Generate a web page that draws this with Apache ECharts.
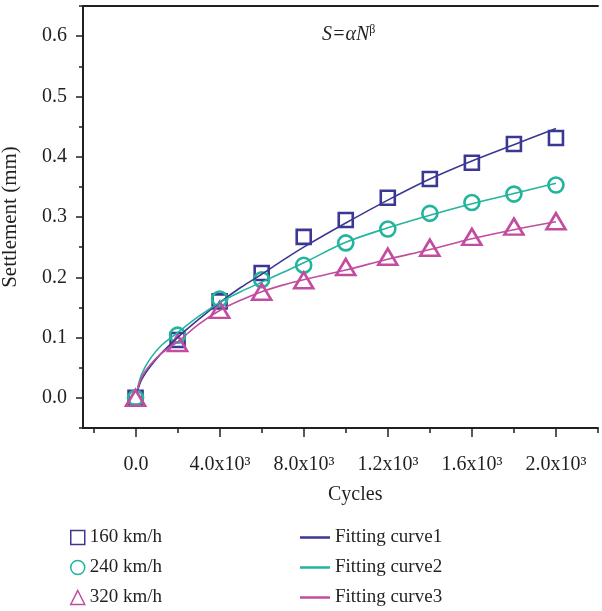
<!DOCTYPE html>
<html>
<head>
<meta charset="utf-8">
<script src="https://cdn.jsdelivr.net/npm/echarts@6/dist/echarts.min.js"></script>
<style>html,body{margin:0;padding:0;background:#fff;}#c{width:602px;height:611px;}</style>
</head>
<body>
<div id="c"></div>
<script>
// ---- data ----
const cycles = [0, 2000, 4000, 6000, 8000, 10000, 12000, 14000, 16000, 18000, 20000];
const s160 = [0.000, 0.096, 0.160, 0.207, 0.267, 0.295, 0.332, 0.363, 0.390, 0.421, 0.431];
const s240 = [0.000, 0.104, 0.164, 0.196, 0.220, 0.257, 0.280, 0.306, 0.324, 0.338, 0.353];
const s320 = [0.000, 0.091, 0.146, 0.176, 0.195, 0.217, 0.234, 0.249, 0.267, 0.284, 0.293];

const fitN = [100, 300, 700, 1200, 2000, 3000, 4000, 5000, 6000, 7000, 8000, 10000, 12000, 14000, 16000, 18000, 20000];
const fit1 = [0.012, 0.031, 0.052, 0.073, 0.100, 0.130, 0.158, 0.183, 0.205, 0.228, 0.250, 0.290, 0.328, 0.363, 0.393, 0.420, 0.447];
const fit2 = [0.017, 0.040, 0.065, 0.086, 0.108, 0.135, 0.158, 0.176, 0.192, 0.208, 0.224, 0.258, 0.282, 0.303, 0.322, 0.339, 0.356];
const fit3 = [0.014, 0.035, 0.055, 0.073, 0.093, 0.122, 0.145, 0.162, 0.176, 0.187, 0.196, 0.212, 0.230, 0.246, 0.264, 0.279, 0.292];

const xTickValues = [0, 4000, 8000, 12000, 16000, 20000];
const xTickLabels = ['0.0', '4.0x10³', '8.0x10³', '1.2x10³', '1.6x10³', '2.0x10³'];
const yTickValues = [0, 0.1, 0.2, 0.3, 0.4, 0.5, 0.6];
const yTickLabels = ['0.0', '0.1', '0.2', '0.3', '0.4', '0.5', '0.6'];

const names = ['160 km/h', '240 km/h', '320 km/h'];
const fitNames = ['Fitting curve1', 'Fitting curve2', 'Fitting curve3'];
const colors = ['#3b3894', '#22b59c', '#c24c9f'];

// ---- chart ----
const FONT = '"Liberation Serif", "DejaVu Serif", serif';
const TXT = '#231f20';
const chart = echarts.init(document.getElementById('c'), null, {renderer: 'canvas'});

const pair = (xs, ys) => xs.map((x, i) => [x, ys[i]]);
const symbols = ['rect', 'circle', 'triangle'];
const symSizes = [14, 15, [19, 16]];

const hiddenAxis = (g) => ({type: 'value', gridIndex: g, show: false, min: 0, max: 1});
const G = {top: 6, bottom: 183, containLabel: false, outerBoundsMode: 'none'};

const option = {
  animation: false,
  backgroundColor: '#fff',
  grid: [
    Object.assign({left: 83, right: 4}, G),
    Object.assign({left: 94, right: 4}, G),
    Object.assign({left: 136, right: 46}, G),
    {left: 83, right: 4, top: 36, bottom: 213, containLabel: false, outerBoundsMode: 'none'}
  ],
  xAxis: [
    {type: 'value', gridIndex: 0, min: -2500, max: 22000, position: 'bottom',
     axisLine: {show: true, onZero: false, lineStyle: {color: TXT, width: 2}},
     axisTick: {show: false}, axisLabel: {show: false}, splitLine: {show: false}},
    {type: 'value', gridIndex: 0, min: -2500, max: 22000, position: 'top',
     axisLine: {show: true, onZero: false, lineStyle: {color: TXT, width: 2}},
     axisTick: {show: false}, axisLabel: {show: false}, splitLine: {show: false}},
    {type: 'value', gridIndex: 1, min: -2000, max: 22000, interval: 2000,
     axisLine: {show: false, onZero: false},
     axisTick: {show: true, length: 5, lineStyle: {color: TXT, width: 1.5}},
     axisLabel: {show: false}, splitLine: {show: false}},
    {type: 'value', gridIndex: 2, min: 0, max: 20000, interval: 4000,
     axisLine: {show: false, onZero: false},
     axisTick: {show: true, length: 9, lineStyle: {color: TXT, width: 1.5}},
     axisLabel: {show: true, margin: 27, fontFamily: FONT, fontSize: 20, color: TXT,
       formatter: (v) => { const i = xTickValues.indexOf(v); return i >= 0 ? xTickLabels[i] : ''; }},
     splitLine: {show: false}},
    hiddenAxis(3)
  ],
  yAxis: [
    {type: 'value', gridIndex: 0, min: -0.05, max: 0.65, interval: 0.05,
     axisLine: {show: true, onZero: false, lineStyle: {color: TXT, width: 2}},
     axisTick: {show: true, length: 4, lineStyle: {color: TXT, width: 1.5}},
     axisLabel: {show: false}, splitLine: {show: false},
     name: 'Settlement (mm)', nameLocation: 'middle', nameGap: 62,
     nameTextStyle: {fontFamily: FONT, fontSize: 21, color: TXT}},
    hiddenAxis(1),
    hiddenAxis(2),
    {type: 'value', gridIndex: 3, min: 0, max: 0.6, interval: 0.1,
     axisLine: {show: false, onZero: false},
     axisTick: {show: true, length: 7, lineStyle: {color: TXT, width: 1.5}},
     axisLabel: {show: true, margin: 16, fontFamily: FONT, fontSize: 20, color: TXT,
       formatter: (v) => { const i = yTickValues.findIndex(t => Math.abs(t - v) < 1e-9); return i >= 0 ? yTickLabels[i] : ''; }},
     splitLine: {show: false}}
  ],
  legend: [
    {orient: 'vertical', left: 70, top: 528, padding: 0, itemWidth: 14, itemHeight: 14, itemGap: 11,
     textStyle: {fontFamily: FONT, fontSize: 19, color: TXT},
     data: names.map((n, i) => ({name: n, icon: symbols[i],
       itemStyle: {color: 'rgba(255,255,255,0)', borderColor: colors[i], borderWidth: 1.5}}))},
    {orient: 'vertical', left: 300, top: 528, padding: 0, itemWidth: 30, itemHeight: 2.5, itemGap: 11,
     textStyle: {fontFamily: FONT, fontSize: 19, color: TXT},
     data: fitNames.map((n, i) => ({name: n, icon: 'rect', itemStyle: {color: colors[i]}}))}
  ],
  graphic: [
    {type: 'text', left: 322, top: 24,
     style: {text: '{a|S=αN}{b|β}', fill: TXT,
       rich: {a: {fontFamily: FONT, fontSize: 20, fontStyle: 'italic', fill: TXT},
              b: {fontFamily: FONT, fontSize: 12, fill: TXT, verticalAlign: 'top', padding: [0, 0, 9, 0]}}}},
    {type: 'text', left: 328, top: 485,
     style: {text: 'Cycles', fontFamily: FONT, fontSize: 20, fill: TXT}}
  ],
  series: [
    ...[s160, s240, s320].map((d, i) => ({
      name: names[i], type: 'scatter', xAxisIndex: 0, yAxisIndex: 0,
      data: pair(cycles, d), symbol: symbols[i], symbolSize: symSizes[i],
      itemStyle: {color: 'rgba(255,255,255,0)', borderColor: colors[i], borderWidth: 2.6, opacity: 1},
      z: 2 + i
    })),
    ...[fit1, fit2, fit3].map((d, i) => ({
      name: fitNames[i], type: 'line', xAxisIndex: 0, yAxisIndex: 0,
      data: pair(fitN, d), symbol: 'none', smooth: 0.35,
      lineStyle: {color: colors[i], width: 1.6}, itemStyle: {color: colors[i]},
      z: 6
    }))
  ]
};
chart.setOption(option);
</script>
</body>
</html>
